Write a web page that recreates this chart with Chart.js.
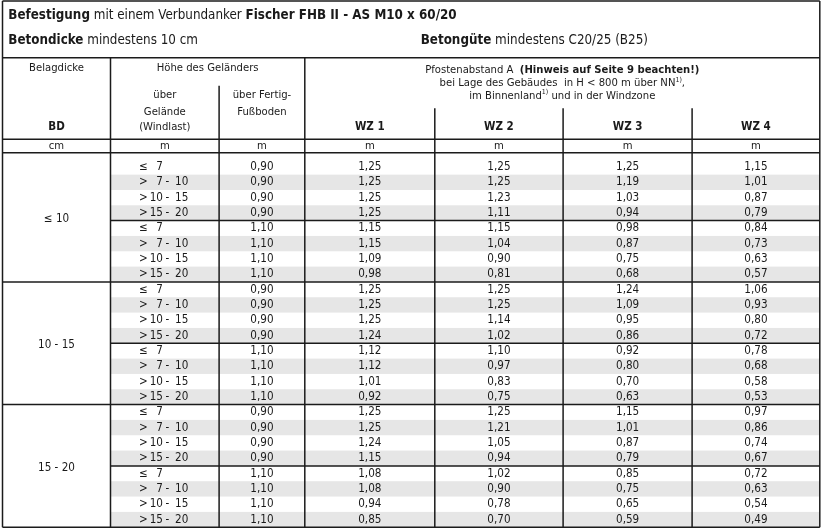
<!DOCTYPE html>
<html>
<head>
<meta charset="utf-8">
<script src="https://cdn.jsdelivr.net/npm/chart.js@4.4.1/dist/chart.umd.min.js"></script>
<style>
  html, body { margin: 0; padding: 0; background: #fff; }
  canvas { display: block; }
</style>
</head>
<body>
<canvas id="tbl" width="823" height="531"></canvas>
<script>
// ─── Data ──────────────────────────────────────────────
const bdGroups     = ['≤ 10', '10 - 15', '15 - 20'];
const windRanges   = [['≤', '7', ''], ['>', '7', '10'], ['>', '10', '15'], ['>', '15', '20']];
const floorHeights = [0.90, 1.10];
const wzLabels     = ['WZ 1', 'WZ 2', 'WZ 3', 'WZ 4'];
const unitLabels   = ['cm', 'm', 'm', 'm', 'm', 'm', 'm'];

const wz1 = [1.25, 1.25, 1.25, 1.25, 1.15, 1.15, 1.09, 0.98,
             1.25, 1.25, 1.25, 1.24, 1.12, 1.12, 1.01, 0.92,
             1.25, 1.25, 1.24, 1.15, 1.08, 1.08, 0.94, 0.85];
const wz2 = [1.25, 1.25, 1.23, 1.11, 1.15, 1.04, 0.90, 0.81,
             1.25, 1.25, 1.14, 1.02, 1.10, 0.97, 0.83, 0.75,
             1.25, 1.21, 1.05, 0.94, 1.02, 0.90, 0.78, 0.70];
const wz3 = [1.25, 1.19, 1.03, 0.94, 0.98, 0.87, 0.75, 0.68,
             1.24, 1.09, 0.95, 0.86, 0.92, 0.80, 0.70, 0.63,
             1.15, 1.01, 0.87, 0.79, 0.85, 0.75, 0.65, 0.59];
const wz4 = [1.15, 1.01, 0.87, 0.79, 0.84, 0.73, 0.63, 0.57,
             1.06, 0.93, 0.80, 0.72, 0.78, 0.68, 0.58, 0.53,
             0.97, 0.86, 0.74, 0.67, 0.72, 0.63, 0.54, 0.49];
const wzSeries = [wz1, wz2, wz3, wz4];

// ─── Layout (table units) ──────────────────────────────
const colW = [108, 108.6, 85.7, 130, 128.3, 129, 127.7];
const colE = colW.reduce((a, w) => { a.push(a[a.length - 1] + w); return a; }, [0]);
const TITLE_H = 56.7, HEAD_H = 81.6, UNIT_H = 13.4, FIRST_PAD = 6.6, ROW_H = 15.33;
const headTop = TITLE_H, unitTop = TITLE_H + HEAD_H, dataTop = unitTop + UNIT_H;
const NROWS = wz1.length;
const TOTAL_H = dataTop + FIRST_PAD + NROWS * ROW_H;
const rowTop = r => r === 0 ? dataTop : dataTop + FIRST_PAD + r * ROW_H;
const rowMid = r => dataTop + FIRST_PAD + (r + 0.5) * ROW_H;

const C = {
    line: '#1b1b1b',
    band: '#e6e6e6',
    text: '#1a1a1a',
    head: "'Liberation Sans Narrow', 'DejaVu Sans Condensed', sans-serif",
    num:  "'DejaVu Sans Condensed', 'Liberation Sans', sans-serif"
};

const fmt = v => v.toFixed(2).replace('.', ',');

// draw segments [{t, b, sup}] as one line
function rich(ctx, segs, x, y, size, align) {
    const fontOf = s => `${s.b ? 'bold ' : ''}${s.sup ? size * 0.62 : size}px ${C.head}`;
    let w = 0;
    segs.forEach(s => { ctx.font = fontOf(s); w += ctx.measureText(s.t).width; });
    let cx = align === 'center' ? x - w / 2 : x;
    ctx.textAlign = 'left';
    segs.forEach(s => {
        ctx.font = fontOf(s);
        ctx.fillText(s.t, cx, s.sup ? y - size * 0.3 : y);
        cx += ctx.measureText(s.t).width;
    });
}

const tablePlugin = {
    id: 'tablePlugin',
    afterDraw(chart) {
        const ctx = chart.ctx;
        const X = v => chart.scales.x.getPixelForValue(v);
        const Y = v => chart.scales.y.getPixelForValue(v);
        ctx.save();
        ctx.textBaseline = 'middle';

        // stripes
        ctx.fillStyle = C.band;
        for (let r = 1; r < NROWS; r += 2) {
            ctx.fillRect(X(colE[1]), Y(rowTop(r)), X(colE[7]) - X(colE[1]), Y(rowTop(r) + ROW_H) - Y(rowTop(r)));
        }
        ctx.fillStyle = C.text;

        // title
        const TS = 13.3;
        rich(ctx, [{ t: 'Befestigung', b: 1 }, { t: ' mit einem Verbundanker ' }, { t: 'Fischer FHB II - AS M10 x 60/20', b: 1 }],
            X(colE[0] + 5.8), Y(14.5), TS, 'left');
        rich(ctx, [{ t: 'Betondicke', b: 1 }, { t: ' mindestens 10 cm' }], X(colE[0] + 5.8), Y(39.3), TS, 'left');
        rich(ctx, [{ t: 'Betongüte', b: 1 }, { t: ' mindestens C20/25 (B25)' }], X(418.2), Y(39.3), TS, 'left');

        // header
        const HS = 11.2;
        const mid = (a, b) => X((colE[a] + colE[b]) / 2);
        rich(ctx, [{ t: 'Belagdicke' }], mid(0, 1), Y(headTop + 10.6), HS, 'center');
        rich(ctx, [{ t: 'Höhe des Geländers' }], mid(1, 3), Y(headTop + 10.6), HS, 'center');
        rich(ctx, [{ t: 'über' }], mid(1, 2), Y(headTop + 37.3), HS, 'center');
        rich(ctx, [{ t: 'Gelände' }], mid(1, 2), Y(headTop + 54), HS, 'center');
        rich(ctx, [{ t: '(Windlast)' }], mid(1, 2), Y(headTop + 69), HS, 'center');
        rich(ctx, [{ t: 'über Fertig-' }], mid(2, 3), Y(headTop + 37.3), HS, 'center');
        rich(ctx, [{ t: 'Fußboden' }], mid(2, 3), Y(headTop + 54), HS, 'center');
        rich(ctx, [{ t: 'BD', b: 1 }], mid(0, 1), Y(headTop + 69), 11.5, 'center');
        rich(ctx, [{ t: 'Pfostenabstand A  ' }, { t: '(Hinweis auf Seite 9 beachten!)', b: 1 }],
            mid(3, 7), Y(headTop + 12.3), HS, 'center');
        rich(ctx, [{ t: 'bei Lage des Gebäudes  in H < 800 m über NN' }, { t: '1)', sup: 1 }, { t: ',' }],
            mid(3, 7), Y(headTop + 25.6), HS, 'center');
        rich(ctx, [{ t: 'im Binnenland' }, { t: '1)', sup: 1 }, { t: ' und in der Windzone' }],
            mid(3, 7), Y(headTop + 38.3), HS, 'center');
        wzLabels.forEach((l, i) => rich(ctx, [{ t: l, b: 1 }], mid(3 + i, 4 + i), Y(headTop + 69), 11.5, 'center'));
        unitLabels.forEach((u, i) => rich(ctx, [{ t: u }], mid(i, i + 1), Y(unitTop + UNIT_H / 2 + 0.3), HS, 'center'));

        // body
        ctx.font = `11.6px ${C.num}`;
        bdGroups.forEach((g, gi) => {
            ctx.textAlign = 'center';
            ctx.fillText(g, mid(0, 1), Y((rowTop(gi * 8) + rowTop(gi * 8 + 8)) / 2 + 2));
        });
        for (let r = 0; r < NROWS; r++) {
            const y = Y(rowMid(r));
            const [op, lo, hi] = windRanges[r % 4];
            ctx.textAlign = 'left';
            ctx.fillText(op, X(colE[1] + 28.5), y);
            ctx.textAlign = 'right';
            ctx.fillText(lo, X(colE[1] + 52.5), y);
            if (hi) {
                ctx.textAlign = 'center';
                ctx.fillText('-', X(colE[1] + 57), y);
                ctx.textAlign = 'left';
                ctx.fillText(hi, X(colE[1] + 64.5), y);
            }
            ctx.textAlign = 'center';
            ctx.fillText(fmt(floorHeights[Math.floor(r / 4) % 2]), mid(2, 3), y);
            wzSeries.forEach((s, i) => ctx.fillText(fmt(s[r]), mid(3 + i, 4 + i), y));
        }

        // grid lines
        ctx.strokeStyle = C.line;
        ctx.lineWidth = 1.5;
        const h = (yv, a, b) => { ctx.beginPath(); ctx.moveTo(X(colE[a]), Y(yv)); ctx.lineTo(X(colE[b]), Y(yv)); ctx.stroke(); };
        const v = (c, y0, y1) => { ctx.beginPath(); ctx.moveTo(X(colE[c]), Y(y0)); ctx.lineTo(X(colE[c]), Y(y1)); ctx.stroke(); };
        [0, headTop, unitTop, dataTop, rowTop(8), rowTop(16), TOTAL_H].forEach(yv => h(yv, 0, 7));
        [rowTop(4), rowTop(12), rowTop(20)].forEach(yv => h(yv, 1, 7));
        v(0, 0, TOTAL_H); v(7, 0, TOTAL_H);
        v(1, headTop, TOTAL_H); v(3, headTop, TOTAL_H);
        v(2, headTop + 28, TOTAL_H);
        [4, 5, 6].forEach(c => v(c, headTop + 50.6, TOTAL_H));
        ctx.restore();
    }
};

new Chart(document.getElementById('tbl'), {
    type: 'scatter',
    data: { datasets: [{ data: [] }] },
    options: {
        responsive: false,
        animation: false,
        layout: { padding: { left: 2.5, right: 823 - 2.5 - colE[7], top: 1, bottom: 531 - 1 - TOTAL_H } },
        plugins: { legend: { display: false }, tooltip: { enabled: false } },
        scales: {
            x: { type: 'linear', display: false, min: 0, max: colE[7] },
            y: { type: 'linear', display: false, min: 0, max: TOTAL_H, reverse: true }
        }
    },
    plugins: [tablePlugin]
});
</script>
</body>
</html>
